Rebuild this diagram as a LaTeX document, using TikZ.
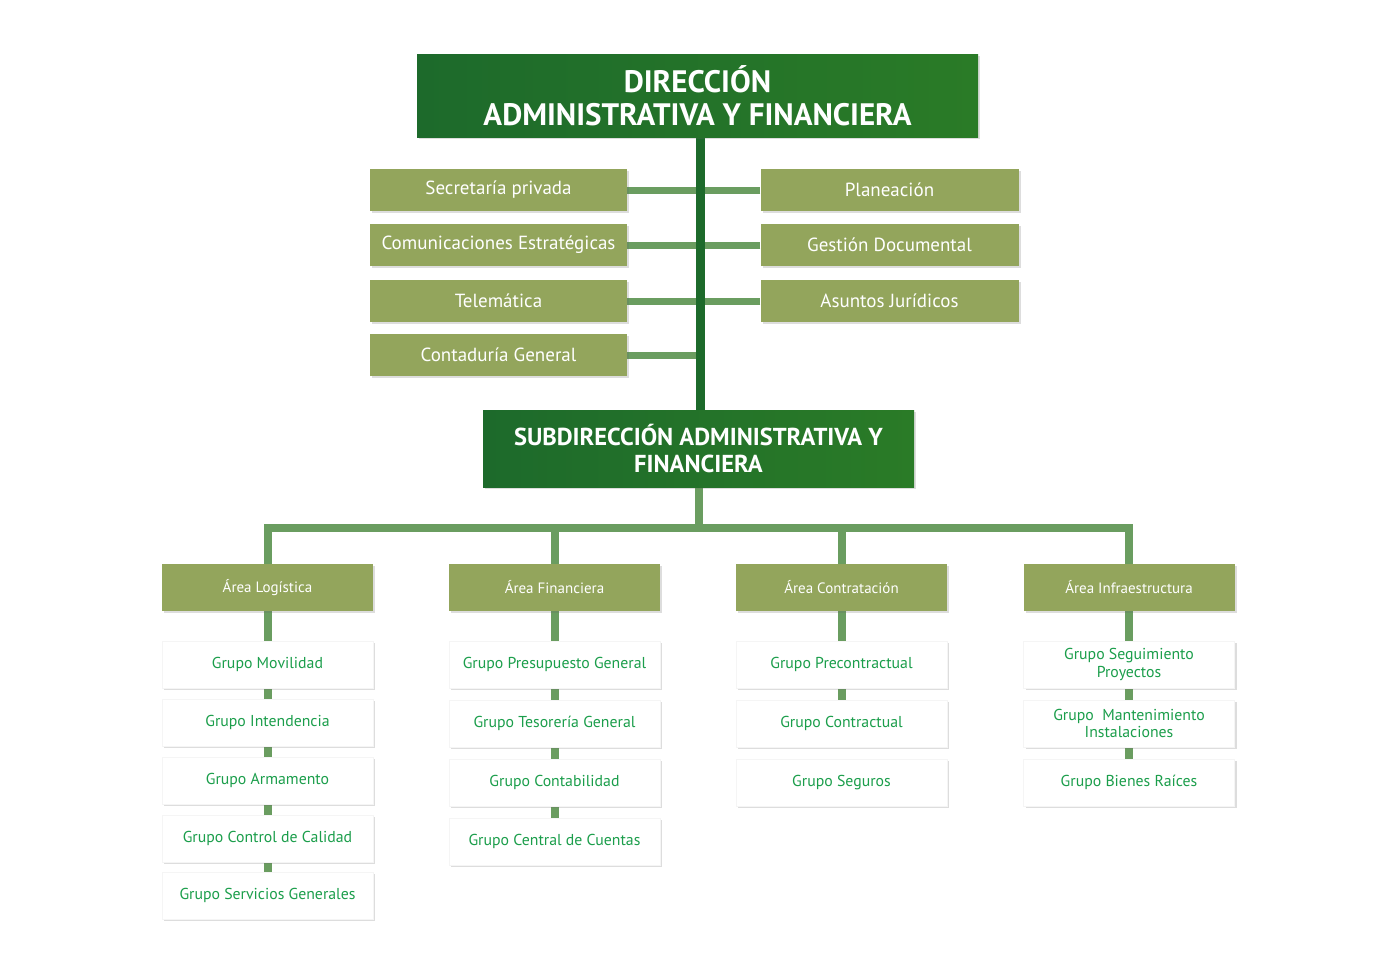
\documentclass[tikz,border=0pt]{standalone}
\usepackage{fontspec}
\setmainfont{PT Sans}
\usetikzlibrary{shadows,backgrounds}
\definecolor{dirgreen}{HTML}{1D6A2B}
\definecolor{dirgreenb}{HTML}{2A7B27}
\definecolor{olive}{HTML}{93A55C}
\definecolor{linegreen}{HTML}{6A9D60}
\definecolor{textgreen}{HTML}{1B9E4B}

\begin{document}
\begin{tikzpicture}[x=1pt,y=-1pt,
	shade/.style={drop shadow={shadow xshift=2pt,shadow yshift=-2pt,opacity=.22,fill=black!60}},
	dirbox/.style={shade,left color=dirgreen,right color=dirgreenb,text=white,font=\bfseries,align=center,inner sep=0pt},
	olivebox/.style={shade,fill=olive,text=white,font=\fontsize{19}{21}\selectfont,minimum height=42pt,inner sep=0pt},
	areabox/.style={shade,fill=olive,text=white,font=\fontsize{15}{17}\selectfont,minimum width=211pt,minimum height=47pt,inner sep=0pt},
	grupobox/.style={shade,fill=white,draw=black!4,text=textgreen,font=\fontsize{15.8}{17.5}\selectfont,align=center,minimum width=211pt,minimum height=47pt,inner sep=0pt},
	topline/.style={dirgreen,line width=9pt},
	sideline/.style={linegreen,line width=7pt},
	lowline/.style={linegreen,line width=8pt}]
	\useasboundingbox (0,0) rectangle (1400,970);
	% direccion y subdireccion
	\node[dirbox,minimum width=561pt,minimum height=83pt,font=\bfseries\fontsize{31}{33}\selectfont] (dir) at (697.5,95.5) {DIRECCIÓN\\ADMINISTRATIVA Y FINANCIERA};
	\node[dirbox,minimum width=431pt,minimum height=77pt,font=\bfseries\fontsize{24.5}{27}\selectfont] (sub) at (698.5,448.5) {SUBDIRECCIÓN ADMINISTRATIVA Y\\FINANCIERA};
	% dependencias de la direccion
	\foreach \y/\n/\t in {190/sec/Secretaría privada, 245/com/Comunicaciones Estratégicas, 301/tel/Telemática, 355/con/Contaduría General}
		\node[olivebox,minimum width=257pt] (\n) at (498.5,\y) {\t};
	\foreach \y/\n/\t in {190/pla/Planeación, 245/ges/Gestión Documental, 301/asu/Asuntos Jurídicos}
		\node[olivebox,minimum width=258pt] (\n) at (889.5,\y) {\t};
	% areas
	\foreach \x/\n/\t in {267.5/1/Área Logística, 554.5/2/Área Financiera, 841.5/3/Área Contratación, 1129/4/Área Infraestructura}
		\node[areabox] (a\n) at (\x,587.5) {\t};
	% grupos
	\foreach \y/\n/\t in {664.5/1/Grupo Movilidad, 722.5/2/Grupo Intendencia, 780.5/3/Grupo Armamento, 838.5/4/Grupo Control de Calidad, 895.5/5/Grupo Servicios Generales}
		\node[grupobox] (g1\n) at (267.5,\y) {\t};
	\foreach \y/\n/\t in {664.5/1/Grupo Presupuesto General, 723.5/2/Grupo Tesorería General, 782.5/3/Grupo Contabilidad, 841.5/4/Grupo Central de Cuentas}
		\node[grupobox] (g2\n) at (554.5,\y) {\t};
	\foreach \y/\n/\t in {664.5/1/Grupo Precontractual, 723.5/2/Grupo Contractual, 782.5/3/Grupo Seguros}
		\node[grupobox] (g3\n) at (841.5,\y) {\t};
	\foreach \y/\n/\t in {664.5/1/{Grupo Seguimiento\\Proyectos}, 723.5/2/{Grupo~~Mantenimiento\\Instalaciones}, 782.5/3/Grupo Bienes Raíces}
		\node[grupobox] (g4\n) at (1129,\y) {\t};
	\coordinate (bar) at (699,528);
	\begin{scope}[on background layer]
		\foreach \n in {sec,com,tel,con}
			\draw[sideline] (\n.east) -- (\n.east -| dir);
		\foreach \n in {pla,ges,asu}
			\draw[sideline] (\n.west) -- (\n.west -| dir);
		\draw[topline] (dir.south -| 700,0) -- (sub.north -| 700,0);
		\draw[lowline] (sub.south -| bar) -- (bar);
		\draw[lowline,line join=miter] (a1.north) |- (bar) -| (a4.north);
		\draw[lowline] (a2.north) -- (a2.north |- bar);
		\draw[lowline] (a3.north) -- (a3.north |- bar);
		\foreach \p/\q in {a1/g11,g11/g12,g12/g13,g13/g14,g14/g15,a2/g21,g21/g22,g22/g23,g23/g24,a3/g31,g31/g32,a4/g41,g41/g42,g42/g43}
			\draw[lowline] (\p.south) -- (\q.north);
	\end{scope}
\end{tikzpicture}
\end{document}
